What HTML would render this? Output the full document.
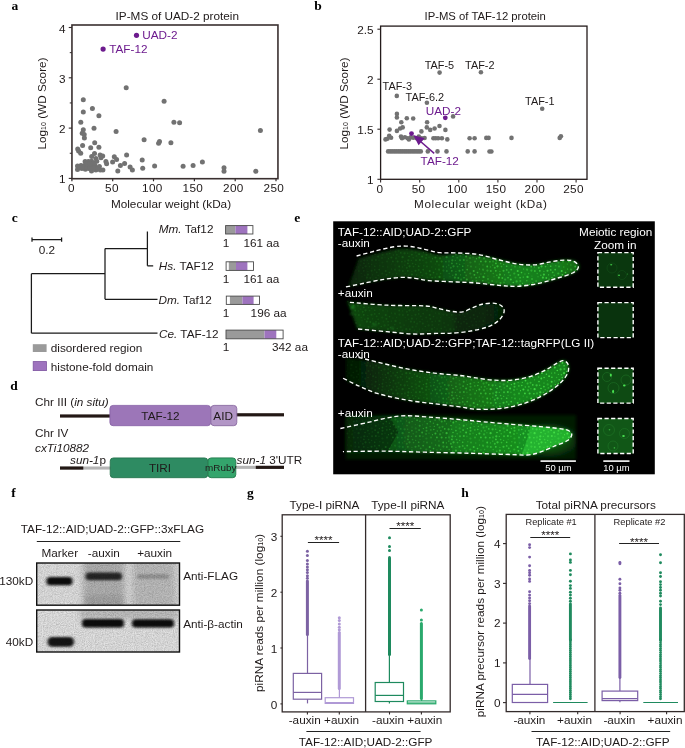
<!DOCTYPE html>
<html><head><meta charset="utf-8"><title>Figure</title>
<style>html,body{margin:0;padding:0;background:#fff}svg{display:block}text{font-family:"Liberation Sans",sans-serif}.lab{font-family:"Liberation Serif",serif;font-weight:bold;font-size:13.5px;fill:#000}.it{font-style:italic}</style>
</head><body>
<svg width="685" height="748" viewBox="0 0 685 748">
<defs>
<linearGradient id="g1" x1="346" x2="579" gradientUnits="userSpaceOnUse"><stop offset="0.000" stop-color="#062206"/><stop offset="0.146" stop-color="#0a340b"/><stop offset="0.361" stop-color="#0d460f"/><stop offset="0.532" stop-color="#126316"/><stop offset="0.747" stop-color="#17821b"/><stop offset="0.918" stop-color="#167c1a"/><stop offset="1.000" stop-color="#126615"/></linearGradient>
<linearGradient id="g2" x1="346" x2="505" gradientUnits="userSpaceOnUse"><stop offset="0.000" stop-color="#0f4711"/><stop offset="0.340" stop-color="#0d3c0e"/><stop offset="0.667" stop-color="#0b350c"/><stop offset="0.698" stop-color="#072808"/><stop offset="1.000" stop-color="#062206"/></linearGradient>
<linearGradient id="g3" x1="342" x2="569" gradientUnits="userSpaceOnUse"><stop offset="0.000" stop-color="#031403"/><stop offset="0.123" stop-color="#072708"/><stop offset="0.344" stop-color="#0e4a10"/><stop offset="0.564" stop-color="#146e17"/><stop offset="0.784" stop-color="#18881c"/><stop offset="1.000" stop-color="#17841d"/></linearGradient>
<linearGradient id="g4" x1="346" x2="572" gradientUnits="userSpaceOnUse"><stop offset="0.000" stop-color="#0c4410"/><stop offset="0.239" stop-color="#11621a"/><stop offset="0.549" stop-color="#15801c"/><stop offset="0.814" stop-color="#179220"/><stop offset="1.000" stop-color="#168e1f"/></linearGradient>
<radialGradient id="gl" cx="548" cy="440" r="36" gradientUnits="userSpaceOnUse" gradientTransform="translate(0 198) scale(1 0.55)"><stop offset="0" stop-color="#139a1e" stop-opacity="0.6"/><stop offset="0.6" stop-color="#118a1a" stop-opacity="0.35"/><stop offset="1" stop-color="#0a3a0c" stop-opacity="0"/></radialGradient>
<linearGradient id="s1" x1="346" x2="579" gradientUnits="userSpaceOnUse"><stop offset="0.000" stop-color="#ffffff" stop-opacity="0.06"/><stop offset="0.361" stop-color="#ffffff" stop-opacity="0.2"/><stop offset="0.575" stop-color="#ffffff" stop-opacity="0.55"/><stop offset="0.918" stop-color="#ffffff" stop-opacity="0.75"/><stop offset="1.000" stop-color="#ffffff" stop-opacity="0.55"/></linearGradient>
<linearGradient id="s2" x1="346" x2="505" gradientUnits="userSpaceOnUse"><stop offset="0.000" stop-color="#ffffff" stop-opacity="0.16"/><stop offset="1.000" stop-color="#ffffff" stop-opacity="0.06"/></linearGradient>
<linearGradient id="s3" x1="342" x2="569" gradientUnits="userSpaceOnUse"><stop offset="0.000" stop-color="#ffffff" stop-opacity="0.05"/><stop offset="0.344" stop-color="#ffffff" stop-opacity="0.2"/><stop offset="0.564" stop-color="#ffffff" stop-opacity="0.5"/><stop offset="0.784" stop-color="#ffffff" stop-opacity="0.8"/><stop offset="1.000" stop-color="#ffffff" stop-opacity="0.85"/></linearGradient>
<linearGradient id="s4" x1="346" x2="572" gradientUnits="userSpaceOnUse"><stop offset="0.000" stop-color="#ffffff" stop-opacity="0.08"/><stop offset="0.239" stop-color="#ffffff" stop-opacity="0.25"/><stop offset="0.416" stop-color="#ffffff" stop-opacity="0.55"/><stop offset="1.000" stop-color="#ffffff" stop-opacity="0.85"/></linearGradient>
<pattern id="nuc" width="44" height="44" patternUnits="userSpaceOnUse"><g fill="#4ae84a"><circle cx="27.4" cy="32.6" r="0.7" opacity="1"/><circle cx="35.0" cy="41.5" r="1.0" opacity="0.6"/><circle cx="1.3" cy="20.5" r="0.8" opacity="1"/><circle cx="41.5" cy="28.6" r="0.9" opacity="1"/><circle cx="39.6" cy="5.0" r="0.6" opacity="1"/><circle cx="20.6" cy="10.8" r="0.6" opacity="0.9"/><circle cx="23.9" cy="25.3" r="0.8" opacity="1"/><circle cx="0.6" cy="9.5" r="0.7" opacity="0.6"/><circle cx="44.6" cy="9.5" r="0.7" opacity="0.6"/><circle cx="12.3" cy="40.3" r="1.1" opacity="0.9"/><circle cx="33.7" cy="7.0" r="1.0" opacity="1"/><circle cx="27.2" cy="5.6" r="0.9" opacity="0.9"/><circle cx="0.1" cy="38.3" r="1.1" opacity="0.6"/><circle cx="44.1" cy="38.3" r="1.1" opacity="0.6"/><circle cx="9.2" cy="9.5" r="0.7" opacity="0.6"/><circle cx="23.7" cy="29.8" r="1.0" opacity="0.9"/><circle cx="9.0" cy="41.4" r="1.1" opacity="0.45"/><circle cx="30.4" cy="42.5" r="1.1" opacity="0.45"/><circle cx="39.3" cy="13.1" r="0.7" opacity="1"/><circle cx="15.9" cy="7.3" r="0.6" opacity="0.75"/><circle cx="6.4" cy="2.9" r="0.6" opacity="0.75"/><circle cx="13.3" cy="26.5" r="0.9" opacity="1"/><circle cx="14.9" cy="13.6" r="1.1" opacity="0.9"/><circle cx="36.0" cy="21.2" r="1.1" opacity="0.9"/><circle cx="13.9" cy="21.2" r="0.9" opacity="1"/><circle cx="31.0" cy="2.5" r="0.9" opacity="0.6"/><circle cx="-1.1" cy="1.0" r="0.8" opacity="0.45"/><circle cx="-1.1" cy="45.0" r="0.8" opacity="0.45"/><circle cx="42.9" cy="1.0" r="0.8" opacity="0.45"/><circle cx="42.9" cy="45.0" r="0.8" opacity="0.45"/><circle cx="33.0" cy="37.2" r="0.6" opacity="0.6"/><circle cx="0.8" cy="34.7" r="0.9" opacity="0.6"/><circle cx="44.8" cy="34.7" r="0.9" opacity="0.6"/><circle cx="16.1" cy="25.5" r="0.8" opacity="0.9"/><circle cx="8.6" cy="33.3" r="1.1" opacity="0.75"/><circle cx="40.9" cy="41.4" r="0.9" opacity="1"/><circle cx="23.1" cy="34.1" r="0.9" opacity="1"/><circle cx="4.8" cy="32.9" r="0.8" opacity="1"/><circle cx="1.6" cy="41.6" r="1.0" opacity="0.9"/><circle cx="4.0" cy="15.0" r="1.0" opacity="0.6"/><circle cx="26.9" cy="40.4" r="0.8" opacity="0.45"/><circle cx="24.0" cy="13.7" r="0.8" opacity="1"/><circle cx="3.4" cy="6.6" r="1.1" opacity="0.6"/><circle cx="-0.6" cy="23.5" r="1.1" opacity="0.75"/><circle cx="43.4" cy="23.5" r="1.1" opacity="0.75"/><circle cx="26.1" cy="36.4" r="1.0" opacity="1"/><circle cx="20.0" cy="18.6" r="1.0" opacity="0.45"/><circle cx="4.7" cy="19.1" r="1.1" opacity="0.6"/><circle cx="6.6" cy="37.2" r="1.1" opacity="1"/><circle cx="16.6" cy="-0.5" r="0.8" opacity="0.75"/><circle cx="16.6" cy="43.5" r="0.8" opacity="0.75"/><circle cx="3.9" cy="12.0" r="0.6" opacity="0.45"/><circle cx="15.9" cy="34.6" r="0.9" opacity="0.9"/><circle cx="34.1" cy="30.6" r="0.6" opacity="0.75"/><circle cx="16.0" cy="31.0" r="0.6" opacity="0.9"/><circle cx="28.6" cy="25.5" r="0.7" opacity="0.45"/><circle cx="11.0" cy="29.6" r="0.8" opacity="0.9"/><circle cx="20.4" cy="35.9" r="0.9" opacity="0.45"/><circle cx="38.3" cy="30.3" r="0.6" opacity="1"/><circle cx="41.2" cy="21.0" r="1.0" opacity="0.45"/><circle cx="30.4" cy="31.7" r="0.9" opacity="1"/><circle cx="34.3" cy="25.6" r="0.8" opacity="1"/><circle cx="29.3" cy="18.5" r="0.8" opacity="1"/><circle cx="19.4" cy="28.6" r="0.7" opacity="0.45"/><circle cx="27.8" cy="1.8" r="0.8" opacity="0.45"/><circle cx="12.3" cy="18.0" r="0.6" opacity="0.45"/><circle cx="26.8" cy="15.4" r="1.0" opacity="1"/><circle cx="39.3" cy="0.0" r="0.6" opacity="0.6"/><circle cx="39.3" cy="44.0" r="0.6" opacity="0.6"/><circle cx="4.7" cy="24.9" r="0.9" opacity="0.75"/><circle cx="16.5" cy="19.0" r="1.0" opacity="0.75"/><circle cx="10.0" cy="12.8" r="0.7" opacity="0.45"/><circle cx="42.8" cy="16.7" r="0.8" opacity="0.75"/><circle cx="26.2" cy="11.4" r="0.8" opacity="0.6"/><circle cx="18.3" cy="14.0" r="0.9" opacity="0.9"/><circle cx="34.4" cy="10.8" r="0.9" opacity="1"/><circle cx="11.8" cy="6.8" r="0.9" opacity="1"/><circle cx="-0.5" cy="12.9" r="1.1" opacity="1"/><circle cx="43.5" cy="12.9" r="1.1" opacity="1"/><circle cx="26.8" cy="20.9" r="0.6" opacity="1"/><circle cx="20.0" cy="40.3" r="1.0" opacity="0.75"/><circle cx="39.1" cy="24.0" r="0.9" opacity="0.6"/><circle cx="31.2" cy="27.8" r="0.8" opacity="0.9"/><circle cx="37.5" cy="8.6" r="0.8" opacity="1"/><circle cx="13.0" cy="36.5" r="0.8" opacity="1"/><circle cx="2.9" cy="36.8" r="0.8" opacity="0.45"/><circle cx="21.1" cy="24.2" r="0.9" opacity="1"/><circle cx="35.7" cy="3.0" r="0.8" opacity="0.45"/><circle cx="3.2" cy="2.5" r="0.9" opacity="1"/><circle cx="2.5" cy="30.7" r="1.0" opacity="0.6"/><circle cx="6.6" cy="27.8" r="0.6" opacity="0.75"/><circle cx="22.7" cy="5.9" r="0.9" opacity="0.75"/><circle cx="32.6" cy="17.4" r="1.1" opacity="0.75"/><circle cx="6.8" cy="7.0" r="1.0" opacity="0.75"/><circle cx="10.3" cy="21.2" r="1.1" opacity="0.9"/><circle cx="8.8" cy="1.1" r="0.6" opacity="1"/><circle cx="8.8" cy="45.1" r="0.6" opacity="1"/><circle cx="24.1" cy="-0.5" r="0.6" opacity="0.45"/><circle cx="24.1" cy="43.5" r="0.6" opacity="0.45"/><circle cx="17.5" cy="2.6" r="0.8" opacity="0.75"/><circle cx="13.5" cy="2.3" r="1.1" opacity="0.9"/><circle cx="36.1" cy="13.8" r="0.8" opacity="1"/><circle cx="10.8" cy="3.7" r="1.0" opacity="0.75"/><circle cx="41.3" cy="35.0" r="0.7" opacity="0.75"/><circle cx="37.4" cy="27.2" r="0.7" opacity="0.75"/><circle cx="30.0" cy="38.0" r="0.8" opacity="1"/><circle cx="8.1" cy="17.1" r="0.8" opacity="0.75"/><circle cx="31.4" cy="13.5" r="0.9" opacity="0.45"/><circle cx="36.5" cy="38.7" r="0.6" opacity="1"/><circle cx="21.1" cy="15.6" r="1.1" opacity="0.6"/><circle cx="22.7" cy="2.3" r="0.8" opacity="1"/><circle cx="11.7" cy="33.2" r="0.7" opacity="0.75"/><circle cx="10.6" cy="25.0" r="0.7" opacity="0.75"/><circle cx="18.4" cy="22.2" r="0.7" opacity="0.9"/><circle cx="19.7" cy="32.4" r="1.1" opacity="0.45"/><circle cx="38.6" cy="19.3" r="0.6" opacity="1"/><circle cx="33.4" cy="22.7" r="0.8" opacity="0.75"/><circle cx="-1.0" cy="5.6" r="1.1" opacity="0.6"/><circle cx="43.0" cy="5.6" r="1.1" opacity="0.6"/><circle cx="34.8" cy="33.9" r="0.9" opacity="0.6"/><circle cx="23.6" cy="21.1" r="0.6" opacity="0.75"/><circle cx="30.3" cy="9.5" r="1.1" opacity="0.6"/><circle cx="19.5" cy="6.7" r="1.0" opacity="0.9"/><circle cx="17.2" cy="37.7" r="0.8" opacity="0.6"/><circle cx="26.6" cy="28.8" r="0.6" opacity="0.45"/><circle cx="-0.5" cy="31.5" r="1.0" opacity="0.6"/><circle cx="43.5" cy="31.5" r="1.0" opacity="0.6"/><circle cx="5.9" cy="41.7" r="0.8" opacity="1"/><circle cx="12.8" cy="11.2" r="0.7" opacity="0.75"/><circle cx="40.9" cy="10.0" r="0.8" opacity="0.45"/><circle cx="1.7" cy="25.5" r="1.0" opacity="0.75"/><circle cx="36.3" cy="17.0" r="1.0" opacity="0.6"/><circle cx="24.7" cy="8.3" r="0.9" opacity="0.75"/><circle cx="30.5" cy="34.7" r="1.0" opacity="0.75"/><circle cx="6.3" cy="22.3" r="0.9" opacity="0.75"/><circle cx="15.9" cy="10.6" r="1.1" opacity="0.9"/><circle cx="37.8" cy="33.5" r="0.8" opacity="0.9"/><circle cx="23.8" cy="39.9" r="1.0" opacity="0.9"/><circle cx="15.3" cy="40.3" r="0.6" opacity="0.9"/><circle cx="30.4" cy="22.4" r="0.7" opacity="0.6"/><circle cx="19.7" cy="0.3" r="0.6" opacity="0.9"/><circle cx="19.7" cy="44.3" r="0.6" opacity="0.9"/><circle cx="39.4" cy="37.4" r="1.0" opacity="1"/><circle cx="11.9" cy="-0.6" r="0.9" opacity="1"/><circle cx="11.9" cy="43.4" r="0.9" opacity="1"/></g></pattern>
<filter id="bl" x="-5%" y="-20%" width="110%" height="140%"><feGaussianBlur stdDeviation="1.6"/></filter>
<filter id="bl4" x="-50%" y="-50%" width="200%" height="200%"><feGaussianBlur stdDeviation="0.5"/></filter>
<filter id="bl2" x="-20%" y="-50%" width="140%" height="200%"><feGaussianBlur stdDeviation="1.5 1.2"/></filter>
<filter id="bl3" x="-20%" y="-50%" width="140%" height="200%"><feGaussianBlur stdDeviation="3 2"/></filter>
<filter id="grain" x="0" y="0" width="100%" height="100%"><feTurbulence type="fractalNoise" baseFrequency="0.9" numOctaves="2" seed="3" result="n"/><feColorMatrix in="n" type="matrix" values="0 0 0 0 0  0 0 0 0 0  0 0 0 0 0  0.9 0.9 0 0 -0.62"/></filter>
<clipPath id="cb1"><rect x="37" y="563" width="142" height="42"/></clipPath>
<clipPath id="cb2"><rect x="37" y="610" width="142" height="42"/></clipPath>
</defs>
<rect width="685" height="748" fill="#fff"/>
<text class="lab" x="11.5" y="9.5">a</text>
<text class="lab" x="314.3" y="9.5">b</text>
<text class="lab" x="11.8" y="222">c</text>
<text class="lab" x="10.3" y="389.7">d</text>
<text class="lab" x="294.3" y="221.8">e</text>
<text class="lab" x="11.2" y="497">f</text>
<text class="lab" x="247" y="496.5">g</text>
<text class="lab" x="461.3" y="496.8">h</text>
<rect x="71.95" y="25.0" width="206.00" height="153.70" fill="none" stroke="#3a3030" stroke-width="1.6"/>
<text x="177.3" y="20.1" font-size="11.75" text-anchor="middle" fill="#1f1a1a" >IP-MS of UAD-2 protein</text>
<text x="171.0" y="208.0" font-size="11.75" text-anchor="middle" fill="#1f1a1a" >Molecular weight (kDa)</text>
<line x1="68.75" y1="178.4" x2="71.95" y2="178.4" stroke="#332b2b" stroke-width="1.1"/>
<text x="65.5" y="183.4" font-size="11.75" text-anchor="end" fill="#1f1a1a" >1</text>
<line x1="68.75" y1="128.10000000000002" x2="71.95" y2="128.10000000000002" stroke="#332b2b" stroke-width="1.1"/>
<text x="65.5" y="133.1" font-size="11.75" text-anchor="end" fill="#1f1a1a" >2</text>
<line x1="68.75" y1="77.80000000000001" x2="71.95" y2="77.80000000000001" stroke="#332b2b" stroke-width="1.1"/>
<text x="65.5" y="82.8" font-size="11.75" text-anchor="end" fill="#1f1a1a" >3</text>
<line x1="68.75" y1="27.50000000000003" x2="71.95" y2="27.50000000000003" stroke="#332b2b" stroke-width="1.1"/>
<text x="65.5" y="32.5" font-size="11.75" text-anchor="end" fill="#1f1a1a" >4</text>
<line x1="69.75" y1="153.25" x2="71.95" y2="153.25" stroke="#332b2b" stroke-width="1"/>
<line x1="69.75" y1="102.95000000000002" x2="71.95" y2="102.95000000000002" stroke="#332b2b" stroke-width="1"/>
<line x1="69.75" y1="52.650000000000006" x2="71.95" y2="52.650000000000006" stroke="#332b2b" stroke-width="1"/>
<line x1="71.9" y1="178.7" x2="71.9" y2="181.29999999999998" stroke="#332b2b" stroke-width="1.2"/>
<text x="71.4" y="192.3" font-size="11.75" text-anchor="middle" fill="#1f1a1a" letter-spacing="0.4">0</text>
<line x1="112.7" y1="178.7" x2="112.7" y2="181.29999999999998" stroke="#332b2b" stroke-width="1.2"/>
<text x="111.9" y="192.3" font-size="11.75" text-anchor="middle" fill="#1f1a1a" letter-spacing="0.4">50</text>
<line x1="153.5" y1="178.7" x2="153.5" y2="181.29999999999998" stroke="#332b2b" stroke-width="1.2"/>
<text x="152.4" y="192.3" font-size="11.75" text-anchor="middle" fill="#1f1a1a" letter-spacing="0.4">100</text>
<line x1="194.4" y1="178.7" x2="194.4" y2="181.29999999999998" stroke="#332b2b" stroke-width="1.2"/>
<text x="192.9" y="192.3" font-size="11.75" text-anchor="middle" fill="#1f1a1a" letter-spacing="0.4">150</text>
<line x1="235.2" y1="178.7" x2="235.2" y2="181.29999999999998" stroke="#332b2b" stroke-width="1.2"/>
<text x="233.4" y="192.3" font-size="11.75" text-anchor="middle" fill="#1f1a1a" letter-spacing="0.4">200</text>
<line x1="276.0" y1="178.7" x2="276.0" y2="181.29999999999998" stroke="#332b2b" stroke-width="1.2"/>
<text x="273.9" y="192.3" font-size="11.75" text-anchor="middle" fill="#1f1a1a" letter-spacing="0.4">250</text>
<text transform="translate(46.4,103.5) rotate(-90)" font-size="11.75" text-anchor="middle" fill="#1f1a1a">Log<tspan font-size="7">10</tspan> (WD Score)</text>
<g fill="#727272">
<circle cx="92.4" cy="108.5" r="2.5"/>
<circle cx="83.3" cy="112.0" r="2.5"/>
<circle cx="98.9" cy="115.7" r="2.5"/>
<circle cx="80.8" cy="122.2" r="2.5"/>
<circle cx="164.1" cy="101.2" r="2.5"/>
<circle cx="94.0" cy="128.3" r="2.5"/>
<circle cx="83.3" cy="129.7" r="2.5"/>
<circle cx="116.1" cy="131.5" r="2.5"/>
<circle cx="82.2" cy="133.2" r="2.5"/>
<circle cx="84.2" cy="134.6" r="2.5"/>
<circle cx="84.4" cy="138.1" r="2.5"/>
<circle cx="144.1" cy="139.7" r="2.5"/>
<circle cx="159.5" cy="141.5" r="2.5"/>
<circle cx="158.6" cy="143.2" r="2.5"/>
<circle cx="94.7" cy="142.7" r="2.5"/>
<circle cx="82.6" cy="145.5" r="2.5"/>
<circle cx="98.9" cy="147.3" r="2.5"/>
<circle cx="90.7" cy="147.8" r="2.5"/>
<circle cx="77.7" cy="149.0" r="2.5"/>
<circle cx="78.6" cy="151.1" r="2.5"/>
<circle cx="80.7" cy="153.2" r="2.5"/>
<circle cx="94.5" cy="153.4" r="2.5"/>
<circle cx="126.6" cy="155.1" r="2.5"/>
<circle cx="100.1" cy="155.1" r="2.5"/>
<circle cx="91.7" cy="156.4" r="2.5"/>
<circle cx="102.7" cy="156.0" r="2.5"/>
<circle cx="114.3" cy="156.7" r="2.5"/>
<circle cx="101.0" cy="157.8" r="2.5"/>
<circle cx="95.9" cy="158.6" r="2.5"/>
<circle cx="116.6" cy="159.5" r="2.5"/>
<circle cx="142.2" cy="160.0" r="2.5"/>
<circle cx="85.1" cy="161.6" r="2.5"/>
<circle cx="88.4" cy="161.6" r="2.5"/>
<circle cx="91.5" cy="161.3" r="2.5"/>
<circle cx="105.9" cy="161.6" r="2.5"/>
<circle cx="112.6" cy="162.1" r="2.5"/>
<circle cx="124.6" cy="163.4" r="2.5"/>
<circle cx="106.6" cy="163.7" r="2.5"/>
<circle cx="77.5" cy="166.0" r="2.5"/>
<circle cx="81.0" cy="165.5" r="2.5"/>
<circle cx="84.5" cy="165.5" r="2.5"/>
<circle cx="88.0" cy="165.5" r="2.5"/>
<circle cx="92.4" cy="166.0" r="2.5"/>
<circle cx="95.0" cy="165.5" r="2.5"/>
<circle cx="99.4" cy="166.5" r="2.5"/>
<circle cx="120.4" cy="165.5" r="2.5"/>
<circle cx="154.6" cy="166.0" r="2.5"/>
<circle cx="130.1" cy="166.9" r="2.5"/>
<circle cx="142.7" cy="168.3" r="2.5"/>
<circle cx="132.4" cy="170.0" r="2.5"/>
<circle cx="77.5" cy="169.5" r="2.5"/>
<circle cx="81.9" cy="168.6" r="2.5"/>
<circle cx="85.4" cy="169.2" r="2.5"/>
<circle cx="88.9" cy="168.6" r="2.5"/>
<circle cx="91.5" cy="170.9" r="2.5"/>
<circle cx="95.9" cy="170.0" r="2.5"/>
<circle cx="100.3" cy="170.0" r="2.5"/>
<circle cx="102.9" cy="170.0" r="2.5"/>
<circle cx="117.8" cy="170.9" r="2.5"/>
<circle cx="79.6" cy="167.6" r="2.5"/>
<circle cx="83.1" cy="167.2" r="2.5"/>
<circle cx="86.6" cy="167.4" r="2.5"/>
<circle cx="90.1" cy="167.6" r="2.5"/>
<circle cx="93.6" cy="167.9" r="2.5"/>
<circle cx="97.7" cy="168.6" r="2.5"/>
<circle cx="86.3" cy="163.7" r="2.5"/>
<circle cx="89.8" cy="163.7" r="2.5"/>
<circle cx="94.2" cy="163.0" r="2.5"/>
<circle cx="96.8" cy="161.3" r="2.5"/>
<circle cx="126.2" cy="87.7" r="2.5"/>
<circle cx="83.3" cy="99.7" r="2.5"/>
<circle cx="173.9" cy="122.2" r="2.5"/>
<circle cx="179.6" cy="122.7" r="2.5"/>
<circle cx="170.9" cy="142.7" r="2.5"/>
<circle cx="260.4" cy="130.4" r="2.5"/>
<circle cx="202.4" cy="162.0" r="2.5"/>
<circle cx="193.1" cy="165.6" r="2.5"/>
<circle cx="183.1" cy="166.3" r="2.5"/>
<circle cx="224.0" cy="167.7" r="2.5"/>
<circle cx="224.0" cy="171.3" r="2.5"/>
<circle cx="255.8" cy="171.3" r="2.5"/>
</g>
<circle cx="136.5" cy="35.3" r="2.6" fill="#6d1b8e"/><circle cx="103.1" cy="49.1" r="2.6" fill="#6d1b8e"/>
<text x="142.3" y="39.4" font-size="11.75" text-anchor="start" fill="#6d1b8e" >UAD-2</text>
<text x="109.2" y="53.3" font-size="11.75" text-anchor="start" fill="#6d1b8e" >TAF-12</text>
<rect x="380.6" y="26.1" width="206.40" height="153.20" fill="none" stroke="#241b1b" stroke-width="1.3"/>
<text x="485.2" y="20.2" font-size="11.3" text-anchor="middle" fill="#1f1a1a" >IP-MS of TAF-12 protein</text>
<text x="414.0" y="208.0" font-size="11.75" text-anchor="start" fill="#1f1a1a" textLength="132.8">Molecular weight (kDa)</text>
<line x1="377.40000000000003" y1="179.3" x2="380.6" y2="179.3" stroke="#332b2b" stroke-width="1.1"/>
<text x="373.6" y="183.9" font-size="11.75" text-anchor="end" fill="#1f1a1a" >1</text>
<line x1="377.40000000000003" y1="129.2" x2="380.6" y2="129.2" stroke="#332b2b" stroke-width="1.1"/>
<text x="373.6" y="133.8" font-size="11.75" text-anchor="end" fill="#1f1a1a" >1.5</text>
<line x1="377.40000000000003" y1="79.2" x2="380.6" y2="79.2" stroke="#332b2b" stroke-width="1.1"/>
<text x="373.6" y="83.8" font-size="11.75" text-anchor="end" fill="#1f1a1a" >2</text>
<line x1="377.40000000000003" y1="29.2" x2="380.6" y2="29.2" stroke="#332b2b" stroke-width="1.1"/>
<text x="373.6" y="33.8" font-size="11.75" text-anchor="end" fill="#1f1a1a" >2.5</text>
<line x1="380.6" y1="179.3" x2="380.6" y2="182.5" stroke="#332b2b" stroke-width="1.1"/>
<text x="379.9" y="192.6" font-size="11.75" text-anchor="middle" fill="#1f1a1a" letter-spacing="0.4">0</text>
<line x1="419.7" y1="179.3" x2="419.7" y2="182.5" stroke="#332b2b" stroke-width="1.1"/>
<text x="418.6" y="192.6" font-size="11.75" text-anchor="middle" fill="#1f1a1a" letter-spacing="0.4">50</text>
<line x1="458.8" y1="179.3" x2="458.8" y2="182.5" stroke="#332b2b" stroke-width="1.1"/>
<text x="457.4" y="192.6" font-size="11.75" text-anchor="middle" fill="#1f1a1a" letter-spacing="0.4">100</text>
<line x1="497.9" y1="179.3" x2="497.9" y2="182.5" stroke="#332b2b" stroke-width="1.1"/>
<text x="496.1" y="192.6" font-size="11.75" text-anchor="middle" fill="#1f1a1a" letter-spacing="0.4">150</text>
<line x1="537.0" y1="179.3" x2="537.0" y2="182.5" stroke="#332b2b" stroke-width="1.1"/>
<text x="534.9" y="192.6" font-size="11.75" text-anchor="middle" fill="#1f1a1a" letter-spacing="0.4">200</text>
<line x1="576.1" y1="179.3" x2="576.1" y2="182.5" stroke="#332b2b" stroke-width="1.1"/>
<text x="573.6" y="192.6" font-size="11.75" text-anchor="middle" fill="#1f1a1a" letter-spacing="0.4">250</text>
<text transform="translate(347.8,103.5) rotate(-90)" font-size="11.75" text-anchor="middle" fill="#1f1a1a">Log<tspan font-size="7">10</tspan> (WD Score)</text>
<g fill="#727272">
<circle cx="396.9" cy="113.9" r="2.3"/>
<circle cx="396.9" cy="117.5" r="2.3"/>
<circle cx="406.8" cy="118.2" r="2.3"/>
<circle cx="413.2" cy="118.5" r="2.3"/>
<circle cx="401.3" cy="122.2" r="2.3"/>
<circle cx="427.1" cy="122.3" r="2.3"/>
<circle cx="453.1" cy="116.4" r="2.3"/>
<circle cx="439.5" cy="126.0" r="2.3"/>
<circle cx="426.8" cy="127.4" r="2.3"/>
<circle cx="402.7" cy="127.4" r="2.3"/>
<circle cx="400.1" cy="128.5" r="2.3"/>
<circle cx="434.6" cy="128.5" r="2.3"/>
<circle cx="430.2" cy="129.9" r="2.3"/>
<circle cx="445.4" cy="129.9" r="2.3"/>
<circle cx="389.6" cy="129.6" r="2.3"/>
<circle cx="396.9" cy="130.9" r="2.3"/>
<circle cx="421.4" cy="131.4" r="2.3"/>
<circle cx="389.2" cy="135.8" r="2.3"/>
<circle cx="391.1" cy="137.7" r="2.3"/>
<circle cx="385.5" cy="139.4" r="2.3"/>
<circle cx="387.4" cy="138.7" r="2.3"/>
<circle cx="401.0" cy="136.5" r="2.3"/>
<circle cx="402.0" cy="138.2" r="2.3"/>
<circle cx="404.9" cy="137.2" r="2.3"/>
<circle cx="407.8" cy="138.2" r="2.3"/>
<circle cx="408.9" cy="139.4" r="2.3"/>
<circle cx="410.8" cy="137.2" r="2.3"/>
<circle cx="413.2" cy="137.7" r="2.3"/>
<circle cx="416.6" cy="138.2" r="2.3"/>
<circle cx="418.8" cy="136.5" r="2.3"/>
<circle cx="421.7" cy="138.2" r="2.3"/>
<circle cx="424.6" cy="138.0" r="2.3"/>
<circle cx="433.4" cy="138.2" r="2.3"/>
<circle cx="435.6" cy="138.2" r="2.3"/>
<circle cx="438.1" cy="138.2" r="2.3"/>
<circle cx="441.9" cy="138.2" r="2.3"/>
<circle cx="447.3" cy="139.4" r="2.3"/>
<circle cx="469.6" cy="138.2" r="2.3"/>
<circle cx="474.6" cy="138.2" r="2.3"/>
<circle cx="427.8" cy="151.4" r="2.3"/>
<circle cx="437.5" cy="151.4" r="2.3"/>
<circle cx="446.5" cy="151.4" r="2.3"/>
<circle cx="467.7" cy="151.4" r="2.3"/>
<circle cx="474.6" cy="151.4" r="2.3"/>
<circle cx="388.1" cy="151.4" r="2.3"/>
<circle cx="390.2" cy="151.4" r="2.3"/>
<circle cx="392.2" cy="151.4" r="2.3"/>
<circle cx="394.3" cy="151.4" r="2.3"/>
<circle cx="396.3" cy="151.4" r="2.3"/>
<circle cx="398.4" cy="151.4" r="2.3"/>
<circle cx="400.4" cy="151.4" r="2.3"/>
<circle cx="402.4" cy="151.4" r="2.3"/>
<circle cx="404.5" cy="151.4" r="2.3"/>
<circle cx="406.5" cy="151.4" r="2.3"/>
<circle cx="408.6" cy="151.4" r="2.3"/>
<circle cx="410.6" cy="151.4" r="2.3"/>
<circle cx="412.7" cy="151.4" r="2.3"/>
<circle cx="414.7" cy="151.4" r="2.3"/>
<circle cx="416.8" cy="151.4" r="2.3"/>
<circle cx="418.8" cy="151.4" r="2.3"/>
<circle cx="420.8" cy="151.4" r="2.3"/>
<circle cx="439.6" cy="72.6" r="2.3"/>
<circle cx="480.9" cy="72.2" r="2.3"/>
<circle cx="396.8" cy="95.9" r="2.3"/>
<circle cx="426.9" cy="102.7" r="2.3"/>
<circle cx="486.3" cy="137.9" r="2.3"/>
<circle cx="488.6" cy="137.9" r="2.3"/>
<circle cx="511.5" cy="137.9" r="2.3"/>
<circle cx="491.4" cy="151.5" r="2.3"/>
<circle cx="542.2" cy="108.8" r="2.3"/>
<circle cx="559.7" cy="137.9" r="2.3"/>
<circle cx="560.9" cy="136.3" r="2.3"/>
<circle cx="489.5" cy="151.5" r="2.3"/>
</g>
<circle cx="445.3" cy="117.8" r="2.4" fill="#6d1b8e"/><circle cx="411.5" cy="133.6" r="2.4" fill="#6d1b8e"/>
<line x1="434.2" y1="153.4" x2="420" y2="141" stroke="#6d1b8e" stroke-width="1.5"/>
<path d="M413.2 135 L424.6 138.2 L418.6 145.3 Z" fill="#6d1b8e"/>
<text x="425.8" y="114.9" font-size="11.75" text-anchor="start" fill="#6d1b8e" >UAD-2</text>
<text x="420.6" y="164.5" font-size="11.75" text-anchor="start" fill="#6d1b8e" >TAF-12</text>
<text x="424.7" y="68.5" font-size="10.9" text-anchor="start" fill="#1f1a1a" >TAF-5</text>
<text x="465.1" y="68.5" font-size="10.9" text-anchor="start" fill="#1f1a1a" >TAF-2</text>
<text x="382.6" y="89.8" font-size="10.9" text-anchor="start" fill="#1f1a1a" >TAF-3</text>
<text x="405.6" y="100.7" font-size="10.9" text-anchor="start" fill="#1f1a1a" >TAF-6.2</text>
<text x="525.1" y="105.0" font-size="10.9" text-anchor="start" fill="#1f1a1a" >TAF-1</text>
<g stroke="#1a1a1a" stroke-width="1.25" fill="none">
<path d="M31.4 273.7V333.2M31.4 273.7H105M105 248.5V299.3M105 248.5H147.4M147.4 231.4V265.8M147.4 265.8H153.2M105 299.3H157.5M31.4 333.2H157.5"/>
<path d="M32 239.6H61.6M32 237.4V241.8M61.6 237.4V241.8"/>
</g>
<text x="46.8" y="254.2" font-size="11.75" text-anchor="middle" fill="#1f1a1a" >0.2</text>
<text x="158.8" y="233.3" font-size="11.75" fill="#1f1a1a"><tspan font-style="italic">Mm.</tspan> Taf12</text>
<text x="158.8" y="269.6" font-size="11.75" fill="#1f1a1a"><tspan font-style="italic">Hs.</tspan> TAF12</text>
<text x="158.5" y="303.6" font-size="11.75" fill="#1f1a1a"><tspan font-style="italic">Dm.</tspan> Taf12</text>
<text x="159" y="337.8" font-size="11.75" fill="#1f1a1a"><tspan font-style="italic">Ce.</tspan> TAF-12</text>
<rect x="225.6" y="225.6" width="9.8" height="8.4" fill="#9a9a9a"/>
<rect x="235.4" y="225.6" width="12.0" height="8.4" fill="#9e73be"/>
<rect x="225.6" y="225.6" width="27.3" height="8.4" fill="none" stroke="#4a4a4a" stroke-width="0.9"/>
<rect x="228.8" y="261.8" width="7.2" height="8.6" fill="#9a9a9a"/>
<rect x="236" y="261.8" width="11.4" height="8.6" fill="#9e73be"/>
<rect x="226.1" y="261.8" width="27.4" height="8.6" fill="none" stroke="#4a4a4a" stroke-width="0.9"/>
<rect x="229.9" y="296.1" width="12.5" height="8.3" fill="#9a9a9a"/>
<rect x="242.4" y="296.1" width="11.2" height="8.3" fill="#9e73be"/>
<rect x="226.3" y="296.1" width="33.2" height="8.3" fill="none" stroke="#4a4a4a" stroke-width="0.9"/>
<rect x="226" y="330.1" width="38.5" height="8.7" fill="#9a9a9a"/>
<rect x="264.5" y="330.1" width="11.8" height="8.7" fill="#9e73be"/>
<rect x="226" y="330.1" width="57.1" height="8.7" fill="none" stroke="#4a4a4a" stroke-width="0.9"/>
<text x="222.8" y="246.8" font-size="11.75" text-anchor="start" fill="#1f1a1a" >1</text>
<text x="243.4" y="246.8" font-size="11.75" text-anchor="start" fill="#1f1a1a" >161 aa</text>
<text x="222.8" y="283.2" font-size="11.75" text-anchor="start" fill="#1f1a1a" >1</text>
<text x="243.4" y="283.2" font-size="11.75" text-anchor="start" fill="#1f1a1a" >161 aa</text>
<text x="222.8" y="317.2" font-size="11.75" text-anchor="start" fill="#1f1a1a" >1</text>
<text x="250.6" y="317.2" font-size="11.75" text-anchor="start" fill="#1f1a1a" >196 aa</text>
<text x="222.8" y="351.3" font-size="11.75" text-anchor="start" fill="#1f1a1a" >1</text>
<text x="272.0" y="351.3" font-size="11.75" text-anchor="start" fill="#1f1a1a" >342 aa</text>
<rect x="32.8" y="344.2" width="13.8" height="7.8" fill="#9a9a9a"/>
<rect x="33.2" y="361.6" width="13.2" height="9" fill="#9e73be" stroke="#7d53a0" stroke-width="0.8"/>
<text x="50.8" y="351.6" font-size="11.75" text-anchor="start" fill="#1f1a1a" >disordered region</text>
<text x="50.8" y="370.6" font-size="11.75" text-anchor="start" fill="#1f1a1a" >histone-fold domain</text>
<text x="35" y="405.6" font-size="11.75" fill="#1f1a1a">Chr III (<tspan font-style="italic">in situ)</tspan></text>
<rect x="60" y="414.4" width="52" height="3.2" fill="#231815"/><rect x="230" y="413.2" width="54" height="3.2" fill="#231815"/>
<rect x="109.9" y="405.4" width="100.8" height="20.3" rx="3.2" fill="#9c76b8" stroke="#8560a5" stroke-width="0.8"/>
<rect x="210.9" y="405.4" width="25.9" height="20.3" rx="3.2" fill="#b296c6" stroke="#8a6aa2" stroke-width="0.9"/>
<text x="160.5" y="420.3" font-size="11.75" text-anchor="middle" fill="#1f1a1a" >TAF-12</text>
<text x="223.1" y="420.3" font-size="11.75" text-anchor="middle" fill="#1f1a1a" >AID</text>
<text x="35.0" y="437.4" font-size="11.75" text-anchor="start" fill="#1f1a1a" >Chr IV</text>
<text x="35" y="451.6" font-size="11.75" fill="#1f1a1a" font-style="italic">cxTi10882</text>
<rect x="60" y="466.5" width="52" height="3.1" fill="#b5b5b5"/><rect x="230" y="465.8" width="54" height="3.1" fill="#b5b5b5"/>
<rect x="60" y="466.5" width="23.3" height="3.1" fill="#231815"/><rect x="255.8" y="465.8" width="28.2" height="3.1" fill="#231815"/>
<rect x="110.2" y="457.9" width="97.6" height="19.8" rx="3.2" fill="#2e8b62" stroke="#1f6e48" stroke-width="0.8"/>
<rect x="208" y="457.9" width="27.8" height="19.8" rx="3.2" fill="#34a56c" stroke="#1f7a4a" stroke-width="0.9"/>
<text x="160.0" y="472.3" font-size="11.75" text-anchor="middle" fill="#1f1a1a" >TIRI</text>
<text x="220.7" y="471.0" font-size="9.9" text-anchor="middle" fill="#1f1a1a" >mRuby</text>
<text x="70" y="463.8" font-size="11.75" fill="#1f1a1a"><tspan font-style="italic">sun-1</tspan>p</text>
<text x="236.6" y="463.8" font-size="11.75" fill="#1f1a1a"><tspan font-style="italic">sun-1</tspan> 3'UTR</text>
<rect x="333.2" y="221.3" width="321.6" height="253" fill="#000"/>
<g filter="url(#bl)">
<rect x="346" y="415" width="230" height="44.5" fill="#0a3a0c" opacity="0.45"/><path d="M514 415H576V459.5H514Z" fill="url(#gl)"/>
<path d="M357.6 258.8C360.7 258.0 369.7 255.4 376.0 253.8C382.3 252.2 390.4 250.3 395.5 249.5C400.6 248.7 403.1 248.8 406.9 248.9C410.6 249.0 414.2 249.6 418.0 250.3C421.8 251.0 425.9 252.2 429.7 253.1C433.5 254.0 436.6 255.3 441.0 255.5C445.4 255.7 449.7 254.1 456.0 254.1C462.3 254.1 471.5 254.7 478.8 255.6C486.1 256.5 493.0 258.3 499.6 259.7C506.2 261.1 512.6 263.2 518.6 264.1C524.6 265.0 530.0 265.2 535.7 264.8C541.4 264.4 547.7 262.4 552.8 261.6C557.9 260.8 562.3 260.1 566.1 260.1C569.9 260.1 573.3 260.4 575.5 261.6C577.7 262.8 579.6 265.4 579.3 267.3C579.0 269.2 577.1 271.2 573.6 273.0C570.1 274.8 564.2 276.4 558.5 278.1C552.8 279.8 546.1 282.0 539.5 283.4C532.9 284.8 525.2 286.0 518.6 286.3C512.0 286.6 506.9 285.9 499.6 285.3C492.3 284.7 481.9 283.4 475.0 282.8C468.1 282.2 465.6 282.4 458.0 282.0C450.4 281.6 436.7 281.2 429.7 280.6C422.7 280.0 420.4 278.8 416.0 278.3C411.6 277.8 408.1 277.2 403.1 277.4C398.1 277.5 392.2 278.3 386.0 279.2C379.8 280.1 372.8 281.6 366.0 283.0C359.2 284.4 348.7 286.6 345.2 287.3L348 287.5L358.5 259.5Z" fill="url(#g1)"/>
<path d="M349.9 302.3C356.1 302.8 374.4 304.6 386.9 305.2C399.4 305.8 416.7 305.4 424.9 305.9C433.1 306.4 431.9 307.1 436.3 308.0C440.7 308.9 447.0 310.7 451.4 311.3C455.8 311.9 459.0 312.5 462.8 311.8C466.6 311.1 470.7 308.4 474.2 307.1C477.7 305.8 480.1 304.5 483.6 303.9C487.1 303.3 492.0 302.9 495.0 303.3C498.0 303.7 500.2 304.7 501.7 306.1C503.2 307.5 504.6 309.4 504.1 311.8C503.6 314.2 501.6 317.9 498.8 320.4C496.0 322.9 492.4 325.2 487.4 327.0C482.3 328.8 474.8 330.3 468.5 331.4C462.2 332.4 454.9 333.0 449.5 333.3C444.1 333.6 442.3 333.3 436.3 333.4C430.3 333.5 421.7 334.3 413.5 334.0C405.3 333.7 396.2 332.6 386.9 331.7C377.6 330.8 362.4 329.4 357.5 328.9L347 300.4Z" fill="url(#g2)"/>
<path d="M346.0 358.0C351.2 358.7 367.4 360.3 377.4 362.1C387.4 363.9 396.4 366.9 405.9 368.7C415.4 370.5 425.4 372.0 434.4 373.1C443.4 374.2 453.4 374.8 460.0 375.5C466.6 376.2 468.5 376.8 474.0 377.6C479.5 378.4 486.7 379.7 493.0 380.1C499.3 380.5 505.6 380.7 511.9 380.1C518.2 379.5 525.2 378.0 530.9 376.3C536.6 374.6 541.7 371.9 546.1 369.7C550.5 367.5 554.6 364.5 557.5 363.0C560.4 361.5 561.5 360.4 563.2 360.6C564.9 360.8 567.1 362.0 567.9 364.0C568.7 366.0 569.0 369.5 567.9 372.5C566.8 375.5 564.6 378.7 561.3 382.0C558.0 385.3 553.1 389.2 548.0 392.4C542.9 395.6 536.9 398.6 530.9 401.0C524.9 403.4 518.2 405.3 511.9 406.7C505.6 408.1 499.3 408.7 493.0 409.1C486.7 409.5 479.5 409.5 474.0 409.1C468.5 408.7 466.6 407.8 460.0 406.9C453.4 406.0 443.4 404.9 434.4 403.8C425.4 402.7 415.4 401.7 405.9 400.0C396.4 398.3 385.3 395.8 377.4 393.4C369.5 391.0 363.7 387.8 358.5 385.8C353.3 383.8 348.1 382.2 346.0 381.5Z" fill="url(#g3)"/>
<path d="M346.0 419.0C355.0 418.5 390.0 416.6 400.0 416.0C410.0 415.4 400.2 415.4 405.9 415.7C411.6 415.9 425.4 416.9 434.4 417.5C443.4 418.1 451.8 418.9 460.0 419.6C468.2 420.3 474.9 421.0 483.5 421.8C492.1 422.6 502.4 423.5 511.9 424.3C521.4 425.1 532.2 425.9 540.4 426.6C548.6 427.4 556.5 428.1 561.3 428.8C566.0 429.5 567.2 429.6 568.9 430.7C570.6 431.8 572.0 433.4 571.7 435.1C571.4 436.8 570.0 438.9 567.0 440.8C564.0 442.7 558.5 444.5 553.7 446.5C549.0 448.5 542.9 451.4 538.5 452.8C534.1 454.2 531.5 454.7 527.1 455.0C522.7 455.3 519.2 454.8 511.9 454.6C504.6 454.4 492.1 454.0 483.5 453.7C474.9 453.4 469.8 453.2 460.0 453.0C450.2 452.8 437.1 452.5 424.9 452.2C412.7 451.9 400.0 451.2 386.9 451.2C373.8 451.2 352.8 451.9 346.0 452.0Z" fill="url(#g4)"/>
</g>
<clipPath id="c4"><path d="M346.0 419.0C355.0 418.5 390.0 416.6 400.0 416.0C410.0 415.4 400.2 415.4 405.9 415.7C411.6 415.9 425.4 416.9 434.4 417.5C443.4 418.1 451.8 418.9 460.0 419.6C468.2 420.3 474.9 421.0 483.5 421.8C492.1 422.6 502.4 423.5 511.9 424.3C521.4 425.1 532.2 425.9 540.4 426.6C548.6 427.4 556.5 428.1 561.3 428.8C566.0 429.5 567.2 429.6 568.9 430.7C570.6 431.8 572.0 433.4 571.7 435.1C571.4 436.8 570.0 438.9 567.0 440.8C564.0 442.7 558.5 444.5 553.7 446.5C549.0 448.5 542.9 451.4 538.5 452.8C534.1 454.2 531.5 454.7 527.1 455.0C522.7 455.3 519.2 454.8 511.9 454.6C504.6 454.4 492.1 454.0 483.5 453.7C474.9 453.4 469.8 453.2 460.0 453.0C450.2 452.8 437.1 452.5 424.9 452.2C412.7 451.9 400.0 451.2 386.9 451.2C373.8 451.2 352.8 451.9 346.0 452.0Z"/></clipPath>
<g clip-path="url(#c4)" filter="url(#bl4)"><path d="M340 410H386L398.5 432L384 458H340Z" fill="#000" opacity="0.36"/><path d="M532.5 420H580V460H519.5L527 440Z" fill="#35e040" opacity="0.42"/><path d="M455 415L448 436L455 458H340V415Z" fill="#000" opacity="0.1"/></g>
<g fill="#39d044" filter="url(#bl2)" opacity="0.55"><circle cx="352.6" cy="307.3" r="1.5"/><circle cx="374.8" cy="324.6" r="1.2"/><circle cx="351.5" cy="314" r="1"/><circle cx="392" cy="328" r="1"/></g>
<mask id="mk0" maskUnits="userSpaceOnUse" x="333" y="221" width="323" height="254"><path d="M357.6 258.8C360.7 258.0 369.7 255.4 376.0 253.8C382.3 252.2 390.4 250.3 395.5 249.5C400.6 248.7 403.1 248.8 406.9 248.9C410.6 249.0 414.2 249.6 418.0 250.3C421.8 251.0 425.9 252.2 429.7 253.1C433.5 254.0 436.6 255.3 441.0 255.5C445.4 255.7 449.7 254.1 456.0 254.1C462.3 254.1 471.5 254.7 478.8 255.6C486.1 256.5 493.0 258.3 499.6 259.7C506.2 261.1 512.6 263.2 518.6 264.1C524.6 265.0 530.0 265.2 535.7 264.8C541.4 264.4 547.7 262.4 552.8 261.6C557.9 260.8 562.3 260.1 566.1 260.1C569.9 260.1 573.3 260.4 575.5 261.6C577.7 262.8 579.6 265.4 579.3 267.3C579.0 269.2 577.1 271.2 573.6 273.0C570.1 274.8 564.2 276.4 558.5 278.1C552.8 279.8 546.1 282.0 539.5 283.4C532.9 284.8 525.2 286.0 518.6 286.3C512.0 286.6 506.9 285.9 499.6 285.3C492.3 284.7 481.9 283.4 475.0 282.8C468.1 282.2 465.6 282.4 458.0 282.0C450.4 281.6 436.7 281.2 429.7 280.6C422.7 280.0 420.4 278.8 416.0 278.3C411.6 277.8 408.1 277.2 403.1 277.4C398.1 277.5 392.2 278.3 386.0 279.2C379.8 280.1 372.8 281.6 366.0 283.0C359.2 284.4 348.7 286.6 345.2 287.3L348 287.5L358.5 259.5Z" fill="url(#s1)"/></mask>
<rect x="333" y="221" width="323" height="254" fill="url(#nuc)" mask="url(#mk0)"/>
<mask id="mk1" maskUnits="userSpaceOnUse" x="333" y="221" width="323" height="254"><path d="M349.9 302.3C356.1 302.8 374.4 304.6 386.9 305.2C399.4 305.8 416.7 305.4 424.9 305.9C433.1 306.4 431.9 307.1 436.3 308.0C440.7 308.9 447.0 310.7 451.4 311.3C455.8 311.9 459.0 312.5 462.8 311.8C466.6 311.1 470.7 308.4 474.2 307.1C477.7 305.8 480.1 304.5 483.6 303.9C487.1 303.3 492.0 302.9 495.0 303.3C498.0 303.7 500.2 304.7 501.7 306.1C503.2 307.5 504.6 309.4 504.1 311.8C503.6 314.2 501.6 317.9 498.8 320.4C496.0 322.9 492.4 325.2 487.4 327.0C482.3 328.8 474.8 330.3 468.5 331.4C462.2 332.4 454.9 333.0 449.5 333.3C444.1 333.6 442.3 333.3 436.3 333.4C430.3 333.5 421.7 334.3 413.5 334.0C405.3 333.7 396.2 332.6 386.9 331.7C377.6 330.8 362.4 329.4 357.5 328.9L347 300.4Z" fill="url(#s2)"/></mask>
<rect x="333" y="221" width="323" height="254" fill="url(#nuc)" mask="url(#mk1)"/>
<mask id="mk2" maskUnits="userSpaceOnUse" x="333" y="221" width="323" height="254"><path d="M346.0 358.0C351.2 358.7 367.4 360.3 377.4 362.1C387.4 363.9 396.4 366.9 405.9 368.7C415.4 370.5 425.4 372.0 434.4 373.1C443.4 374.2 453.4 374.8 460.0 375.5C466.6 376.2 468.5 376.8 474.0 377.6C479.5 378.4 486.7 379.7 493.0 380.1C499.3 380.5 505.6 380.7 511.9 380.1C518.2 379.5 525.2 378.0 530.9 376.3C536.6 374.6 541.7 371.9 546.1 369.7C550.5 367.5 554.6 364.5 557.5 363.0C560.4 361.5 561.5 360.4 563.2 360.6C564.9 360.8 567.1 362.0 567.9 364.0C568.7 366.0 569.0 369.5 567.9 372.5C566.8 375.5 564.6 378.7 561.3 382.0C558.0 385.3 553.1 389.2 548.0 392.4C542.9 395.6 536.9 398.6 530.9 401.0C524.9 403.4 518.2 405.3 511.9 406.7C505.6 408.1 499.3 408.7 493.0 409.1C486.7 409.5 479.5 409.5 474.0 409.1C468.5 408.7 466.6 407.8 460.0 406.9C453.4 406.0 443.4 404.9 434.4 403.8C425.4 402.7 415.4 401.7 405.9 400.0C396.4 398.3 385.3 395.8 377.4 393.4C369.5 391.0 363.7 387.8 358.5 385.8C353.3 383.8 348.1 382.2 346.0 381.5Z" fill="url(#s3)"/></mask>
<rect x="333" y="221" width="323" height="254" fill="url(#nuc)" mask="url(#mk2)"/>
<mask id="mk3" maskUnits="userSpaceOnUse" x="333" y="221" width="323" height="254"><path d="M346.0 419.0C355.0 418.5 390.0 416.6 400.0 416.0C410.0 415.4 400.2 415.4 405.9 415.7C411.6 415.9 425.4 416.9 434.4 417.5C443.4 418.1 451.8 418.9 460.0 419.6C468.2 420.3 474.9 421.0 483.5 421.8C492.1 422.6 502.4 423.5 511.9 424.3C521.4 425.1 532.2 425.9 540.4 426.6C548.6 427.4 556.5 428.1 561.3 428.8C566.0 429.5 567.2 429.6 568.9 430.7C570.6 431.8 572.0 433.4 571.7 435.1C571.4 436.8 570.0 438.9 567.0 440.8C564.0 442.7 558.5 444.5 553.7 446.5C549.0 448.5 542.9 451.4 538.5 452.8C534.1 454.2 531.5 454.7 527.1 455.0C522.7 455.3 519.2 454.8 511.9 454.6C504.6 454.4 492.1 454.0 483.5 453.7C474.9 453.4 469.8 453.2 460.0 453.0C450.2 452.8 437.1 452.5 424.9 452.2C412.7 451.9 400.0 451.2 386.9 451.2C373.8 451.2 352.8 451.9 346.0 452.0Z" fill="url(#s4)"/></mask>
<rect x="333" y="221" width="323" height="254" fill="url(#nuc)" mask="url(#mk3)"/>
<g fill="none" stroke="#fff" stroke-width="1.35" stroke-dasharray="4.2 2.7">
<path d="M356.6 256.0C359.7 255.2 368.7 252.6 375.0 251.0C381.3 249.4 389.4 247.5 394.5 246.7C399.6 245.9 402.1 246.0 405.9 246.1C409.6 246.2 413.2 246.8 417.0 247.5C420.8 248.2 424.9 249.4 428.7 250.3C432.5 251.2 435.6 252.3 440.0 252.7C444.4 253.1 448.7 252.6 455.0 252.9C461.3 253.2 470.5 253.3 477.8 254.4C485.1 255.5 492.0 258.1 498.6 259.7C505.2 261.3 511.6 263.2 517.6 264.1C523.6 265.0 529.0 265.2 534.7 264.8C540.4 264.4 546.7 262.4 551.8 261.6C556.9 260.8 561.3 260.1 565.1 260.1C568.9 260.1 572.3 260.4 574.5 261.6C576.7 262.8 578.6 265.4 578.3 267.3C578.0 269.2 576.1 271.2 572.6 273.0C569.1 274.8 563.2 276.4 557.5 278.1C551.8 279.8 545.1 282.0 538.5 283.4C531.9 284.8 524.2 286.0 517.6 286.3C511.0 286.6 505.9 285.9 498.6 285.3C491.3 284.7 480.9 283.4 474.0 282.8C467.1 282.2 464.6 282.4 457.0 282.0C449.4 281.6 435.7 281.2 428.7 280.6C421.7 280.0 419.4 278.8 415.0 278.3C410.6 277.8 407.1 277.2 402.1 277.4C397.1 277.5 391.2 278.3 385.0 279.2C378.8 280.1 371.8 281.6 365.0 283.0C358.2 284.4 347.7 286.6 344.2 287.3"/>
<path d="M349.9 302.3C356.1 302.8 374.4 304.6 386.9 305.2C399.4 305.8 416.7 305.4 424.9 305.9C433.1 306.4 431.9 307.1 436.3 308.0C440.7 308.9 447.0 310.7 451.4 311.3C455.8 311.9 459.0 312.5 462.8 311.8C466.6 311.1 470.7 308.4 474.2 307.1C477.7 305.8 480.1 304.5 483.6 303.9C487.1 303.3 492.0 302.9 495.0 303.3C498.0 303.7 500.2 304.7 501.7 306.1C503.2 307.5 504.6 309.4 504.1 311.8C503.6 314.2 501.6 317.9 498.8 320.4C496.0 322.9 492.4 325.2 487.4 327.0C482.3 328.8 474.8 330.3 468.5 331.4C462.2 332.4 454.9 333.0 449.5 333.3C444.1 333.6 442.3 333.3 436.3 333.4C430.3 333.5 421.7 334.3 413.5 334.0C405.3 333.7 396.2 332.6 386.9 331.7C377.6 330.8 362.4 329.4 357.5 328.9"/>
<path d="M358.5 357.3C361.6 358.1 369.5 360.2 377.4 362.1C385.3 364.0 396.4 366.9 405.9 368.7C415.4 370.5 425.4 372.0 434.4 373.1C443.4 374.2 453.4 374.8 460.0 375.5C466.6 376.2 468.5 376.8 474.0 377.6C479.5 378.4 486.7 379.7 493.0 380.1C499.3 380.5 505.6 380.7 511.9 380.1C518.2 379.5 525.2 378.0 530.9 376.3C536.6 374.6 541.7 371.9 546.1 369.7C550.5 367.5 554.6 364.5 557.5 363.0C560.4 361.5 561.5 360.4 563.2 360.6C564.9 360.8 567.1 362.0 567.9 364.0C568.7 366.0 569.0 369.5 567.9 372.5C566.8 375.5 564.6 378.7 561.3 382.0C558.0 385.3 553.1 389.2 548.0 392.4C542.9 395.6 536.9 398.6 530.9 401.0C524.9 403.4 518.2 405.3 511.9 406.7C505.6 408.1 499.3 408.7 493.0 409.1C486.7 409.5 479.5 409.5 474.0 409.1C468.5 408.7 466.6 407.8 460.0 406.9C453.4 406.0 443.4 404.9 434.4 403.8C425.4 402.7 415.4 401.7 405.9 400.0C396.4 398.3 385.3 395.8 377.4 393.4C369.5 391.0 364.4 388.4 358.5 385.8C352.6 383.2 344.6 379.0 341.8 377.6"/>
<path d="M340.4 428.5C345.0 427.5 360.2 424.1 368.0 422.4C375.8 420.6 380.6 419.1 386.9 418.0C393.2 416.9 398.0 415.8 405.9 415.7C413.8 415.6 425.4 416.9 434.4 417.5C443.4 418.1 451.8 418.9 460.0 419.6C468.2 420.3 474.9 421.0 483.5 421.8C492.1 422.6 502.4 423.5 511.9 424.3C521.4 425.1 532.2 425.9 540.4 426.6C548.6 427.4 556.5 428.1 561.3 428.8C566.0 429.5 567.2 429.6 568.9 430.7C570.6 431.8 572.0 433.4 571.7 435.1C571.4 436.8 570.0 438.9 567.0 440.8C564.0 442.7 558.5 444.5 553.7 446.5C549.0 448.5 542.9 451.4 538.5 452.8C534.1 454.2 531.5 454.7 527.1 455.0C522.7 455.3 519.2 454.8 511.9 454.6C504.6 454.4 492.1 454.0 483.5 453.7C474.9 453.4 469.8 453.2 460.0 453.0C450.2 452.8 437.1 452.5 424.9 452.2C412.7 451.9 400.6 451.3 386.9 451.2C373.2 451.1 350.2 451.5 342.9 451.6"/>
</g>
<rect x="597.9" y="252.6" width="35.3" height="34.6" fill="#0a370e" stroke="#fff" stroke-width="1.4" stroke-dasharray="4.2 2.4"/>
<rect x="597.9" y="302.6" width="35.3" height="35.0" fill="#09330d" stroke="#fff" stroke-width="1.4" stroke-dasharray="4.2 2.4"/>
<rect x="597.9" y="368.3" width="35.3" height="34.8" fill="#0e4a13" stroke="#fff" stroke-width="1.4" stroke-dasharray="4.2 2.4"/>
<rect x="597.9" y="418.5" width="35.3" height="35.0" fill="#115717" stroke="#fff" stroke-width="1.4" stroke-dasharray="4.2 2.4"/>
<g fill="none" stroke="#2f9a38" stroke-width="0.9" opacity="0.32" filter="url(#bl4)"><circle cx="613.5" cy="388" r="5.5"/><circle cx="626" cy="380" r="5"/><circle cx="607" cy="377" r="4.5"/><circle cx="609" cy="430" r="5.5"/><circle cx="624.5" cy="433.5" r="5"/><circle cx="613" cy="446" r="5"/><circle cx="612" cy="268" r="5" opacity="0.5"/><circle cx="622" cy="275" r="4.5" opacity="0.5"/></g>
<g fill="#48e050" filter="url(#bl4)"><ellipse cx="610.8" cy="375.1" rx="1" ry="1.6"/><ellipse cx="624.3" cy="385.4" rx="1.3" ry="1"/><ellipse cx="613.1" cy="391.5" rx="1" ry="1.7"/><ellipse cx="623.5" cy="435.9" rx="1.3" ry="1"/><circle cx="609.5" cy="429.8" r="0.8" opacity="0.6"/><circle cx="614.4" cy="447.9" r="0.8" opacity="0.6"/><ellipse cx="611.2" cy="264.8" rx="1.1" ry="0.7" opacity="0.8"/><ellipse cx="619" cy="275.3" rx="1.1" ry="0.7" opacity="0.8"/><circle cx="627.5" cy="274" r="0.6" opacity="0.5"/></g>
<text x="337.8" y="235.7" font-size="11.75" text-anchor="start" fill="#fff" >TAF-12::AID;UAD-2::GFP</text>
<text x="337.8" y="247.0" font-size="11.75" text-anchor="start" fill="#fff" >-auxin</text>
<text x="337.8" y="296.8" font-size="11.75" text-anchor="start" fill="#fff" >+auxin</text>
<text x="337.8" y="346.6" font-size="11.75" text-anchor="start" fill="#fff" textLength="256.4">TAF-12::AID;UAD-2::GFP;TAF-12::tagRFP(LG II)</text>
<text x="337.8" y="357.9" font-size="11.75" text-anchor="start" fill="#fff" >-auxin</text>
<text x="337.8" y="417.0" font-size="11.75" text-anchor="start" fill="#fff" >+auxin</text>
<text x="615.7" y="235.7" font-size="11.75" text-anchor="middle" fill="#fff" >Meiotic region</text>
<text x="615.2" y="249.4" font-size="11.75" text-anchor="middle" fill="#fff" >Zoom in</text>
<rect x="540.5" y="460.3" width="35.4" height="1.6" fill="#fff"/><rect x="603.3" y="460.3" width="26.2" height="1.6" fill="#fff"/>
<text x="558.4" y="471.2" font-size="9.4" text-anchor="middle" fill="#fff" >50 µm</text>
<text x="616.4" y="471.2" font-size="9.4" text-anchor="middle" fill="#fff" >10 µm</text>
<text x="20.8" y="533.2" font-size="11.75" text-anchor="start" fill="#1f1a1a" >TAF-12::AID;UAD-2::GFP::3xFLAG</text>
<line x1="36.8" y1="541.5" x2="180.3" y2="541.5" stroke="#222" stroke-width="1"/>
<text x="41.5" y="557.0" font-size="11.75" text-anchor="start" fill="#1f1a1a" >Marker</text>
<text x="87.8" y="557.0" font-size="11.75" text-anchor="start" fill="#1f1a1a" >-auxin</text>
<text x="137.2" y="557.0" font-size="11.75" text-anchor="start" fill="#1f1a1a" >+auxin</text>
<text x="33.2" y="584.5" font-size="11.75" text-anchor="end" fill="#1f1a1a" >130kD</text>
<text x="33.2" y="645.9" font-size="11.75" text-anchor="end" fill="#1f1a1a" >40kD</text>
<text x="183.2" y="579.9" font-size="11.75" text-anchor="start" fill="#1f1a1a" >Anti-FLAG</text>
<text x="183.2" y="628.1" font-size="11.75" text-anchor="start" fill="#1f1a1a" >Anti-β-actin</text>
<g clip-path="url(#cb1)">
<rect x="36" y="562" width="145" height="45" fill="#e0e0e0"/>
<g filter="url(#bl3)"><rect x="83" y="558" width="42" height="52" fill="#b2b2b2"/><rect x="132" y="558" width="44" height="52" fill="#bdbdbd"/><rect x="84" y="595" width="40" height="14" fill="#a4a4a4"/></g>
<g filter="url(#bl2)"><rect x="46.5" y="577" width="26" height="8.2" rx="3.5" fill="#101010"/><rect x="85.5" y="572.4" width="36.5" height="7.8" rx="3.5" fill="#262626"/><rect x="137" y="574.3" width="32" height="4.4" rx="2" fill="#858585" opacity="0.75"/></g>
<rect x="36" y="562" width="145" height="45" filter="url(#grain)" opacity="0.24"/>
</g>
<rect x="36.7" y="563" width="142.8" height="42.2" fill="none" stroke="#111" stroke-width="1.4"/>
<g clip-path="url(#cb2)">
<rect x="36" y="609" width="145" height="45" fill="#e2e2e2"/>
<g filter="url(#bl3)"><rect x="80" y="606" width="98" height="13" fill="#c0c0c0"/></g>
<g filter="url(#bl2)"><rect x="82" y="619" width="42" height="8.4" rx="3.5" fill="#080808"/><rect x="132" y="619.2" width="42" height="8.2" rx="3.5" fill="#080808"/><rect x="47.5" y="637" width="26.5" height="9.8" rx="4.5" fill="#181818"/></g>
<rect x="36" y="609" width="145" height="45" filter="url(#grain)" opacity="0.24"/>
</g>
<rect x="36.7" y="610" width="142.8" height="42" fill="none" stroke="#111" stroke-width="1.4"/>
<rect x="282.2" y="514.8" width="168.00" height="197.10" fill="none" stroke="#332b2b" stroke-width="1.3"/>
<line x1="365.6" y1="514.8" x2="365.6" y2="711.9" stroke="#332b2b" stroke-width="1.3"/>
<text x="324.5" y="509.2" font-size="11.75" text-anchor="middle" fill="#1f1a1a" >Type-I piRNA</text>
<text x="407.8" y="509.2" font-size="11.75" text-anchor="middle" fill="#1f1a1a" >Type-II piRNA</text>
<line x1="280.4" y1="703.9" x2="282.2" y2="703.9" stroke="#332b2b" stroke-width="1.1"/>
<text x="277.3" y="708.6" font-size="11.75" text-anchor="end" fill="#1f1a1a" >0</text>
<line x1="280.4" y1="648.0" x2="282.2" y2="648.0" stroke="#332b2b" stroke-width="1.1"/>
<text x="277.3" y="652.8" font-size="11.75" text-anchor="end" fill="#1f1a1a" >1</text>
<line x1="280.4" y1="592.2" x2="282.2" y2="592.2" stroke="#332b2b" stroke-width="1.1"/>
<text x="277.3" y="596.9" font-size="11.75" text-anchor="end" fill="#1f1a1a" >2</text>
<line x1="280.4" y1="536.3" x2="282.2" y2="536.3" stroke="#332b2b" stroke-width="1.1"/>
<text x="277.3" y="541.0" font-size="11.75" text-anchor="end" fill="#1f1a1a" >3</text>
<text transform="translate(262.7,613) rotate(-90)" font-size="11.8" text-anchor="middle" fill="#1f1a1a">piRNA reads per million (log<tspan font-size="7.1">10</tspan>)</text>
<circle cx="307.4" cy="551.3" r="1.5" fill="#7c62a3"/>
<circle cx="307.4" cy="555.5" r="1.5" fill="#7c62a3"/>
<circle cx="307.4" cy="560.6" r="1.5" fill="#7c62a3"/>
<circle cx="307.4" cy="564.0" r="1.5" fill="#7c62a3"/>
<circle cx="307.4" cy="566.9" r="1.5" fill="#7c62a3"/>
<circle cx="307.4" cy="569.7" r="1.5" fill="#7c62a3"/>
<circle cx="307.4" cy="572.6" r="1.5" fill="#7c62a3"/>
<circle cx="307.4" cy="575.8" r="1.5" fill="#7c62a3"/>
<circle cx="307.4" cy="578.3" r="1.5" fill="#7c62a3"/>
<line x1="307.4" y1="581" x2="307.4" y2="634.5" stroke="#7c62a3" stroke-width="3.0" stroke-linecap="round"/>
<g stroke="#7c62a3" stroke-width="1.2" fill="none"><rect x="293.3" y="673.4" width="28.3" height="25.8"/><line x1="293.3" y1="692.4" x2="321.6" y2="692.4"/><line x1="307.5" y1="635" x2="307.5" y2="673.4"/><line x1="307.5" y1="699.2" x2="307.5" y2="703.4"/></g>
<circle cx="339.3" cy="617.7" r="1.5" fill="#b09ad6"/>
<circle cx="339.3" cy="620.6" r="1.5" fill="#b09ad6"/>
<circle cx="339.3" cy="624.0" r="1.5" fill="#b09ad6"/>
<circle cx="339.3" cy="627.2" r="1.5" fill="#b09ad6"/>
<circle cx="339.3" cy="629.8" r="1.5" fill="#b09ad6"/>
<line x1="339.3" y1="632.5" x2="339.3" y2="688.5" stroke="#b09ad6" stroke-width="3.0" stroke-linecap="round"/>
<g stroke="#b09ad6" stroke-width="1.2" fill="none"><rect x="325.2" y="697.7" width="28.3" height="5.7"/><line x1="325.2" y1="702.6" x2="353.5" y2="702.6"/><line x1="339.4" y1="689" x2="339.4" y2="697.7"/><line x1="339.4" y1="703.4" x2="339.4" y2="703.4"/></g>
<circle cx="389.5" cy="537.8" r="1.5" fill="#1e8a5e"/>
<circle cx="389.5" cy="546.6" r="1.5" fill="#1e8a5e"/>
<circle cx="389.5" cy="550.4" r="1.5" fill="#1e8a5e"/>
<line x1="389.5" y1="557.4" x2="389.5" y2="654.5" stroke="#1e8a5e" stroke-width="3.0" stroke-linecap="round"/>
<g stroke="#1e8a5e" stroke-width="1.2" fill="none"><rect x="375.2" y="682.5" width="28.3" height="19.0"/><line x1="375.2" y1="695.4" x2="403.5" y2="695.4"/><line x1="389.4" y1="655" x2="389.4" y2="682.5"/><line x1="389.4" y1="701.5" x2="389.4" y2="703.4"/></g>
<circle cx="421.4" cy="610.0" r="1.5" fill="#2aa96c"/>
<circle cx="421.4" cy="620.0" r="1.5" fill="#2aa96c"/>
<line x1="421.4" y1="623.5" x2="421.4" y2="698.5" stroke="#2aa96c" stroke-width="3.0" stroke-linecap="round"/>
<g stroke="#2aa96c" stroke-width="1.2" fill="none"><rect x="407.3" y="700.9" width="28.5" height="2.9"/><line x1="407.3" y1="703" x2="435.8" y2="703"/><line x1="421.6" y1="699.2" x2="421.6" y2="700.9"/><line x1="421.6" y1="703.8" x2="421.6" y2="703.8"/></g>
<line x1="307.4" y1="711.9" x2="307.4" y2="714.5" stroke="#332b2b" stroke-width="1.1"/>
<line x1="339.3" y1="711.9" x2="339.3" y2="714.5" stroke="#332b2b" stroke-width="1.1"/>
<line x1="389.5" y1="711.9" x2="389.5" y2="714.5" stroke="#332b2b" stroke-width="1.1"/>
<line x1="421.4" y1="711.9" x2="421.4" y2="714.5" stroke="#332b2b" stroke-width="1.1"/>
<g stroke="#222" stroke-width="1"><line x1="307.9" y1="542.5" x2="339.1" y2="542.5"/><line x1="389.5" y1="528.5" x2="420.8" y2="528.5"/><line x1="306.4" y1="731.5" x2="420.6" y2="731.5"/></g>
<text x="323.6" y="543.6" font-size="11.6" text-anchor="middle" fill="#1f1a1a" >****</text>
<text x="405.2" y="530.3" font-size="11.6" text-anchor="middle" fill="#1f1a1a" >****</text>
<text x="304.7" y="724.4" font-size="11.75" text-anchor="middle" fill="#1f1a1a" >-auxin</text>
<text x="341.6" y="724.4" font-size="11.75" text-anchor="middle" fill="#1f1a1a" >+auxin</text>
<text x="388.0" y="724.4" font-size="11.75" text-anchor="middle" fill="#1f1a1a" >-auxin</text>
<text x="424.8" y="724.4" font-size="11.75" text-anchor="middle" fill="#1f1a1a" >+auxin</text>
<text x="365.6" y="745.6" font-size="11.75" text-anchor="middle" fill="#1f1a1a" >TAF-12::AID;UAD-2::GFP</text>
<rect x="506.2" y="514.4" width="178.10" height="197.20" fill="none" stroke="#332b2b" stroke-width="1.3"/>
<line x1="594.9" y1="514.4" x2="594.9" y2="711.6" stroke="#332b2b" stroke-width="1.3"/>
<text x="595.8" y="508.8" font-size="11.75" text-anchor="middle" fill="#1f1a1a" >Total piRNA precursors</text>
<text x="525.5" y="525.4" font-size="9.7" text-anchor="start" fill="#1f1a1a" textLength="51.2" lengthAdjust="spacingAndGlyphs">Replicate #1</text>
<text x="613.6" y="525.4" font-size="9.7" text-anchor="start" fill="#1f1a1a" textLength="51.8" lengthAdjust="spacingAndGlyphs">Replicate #2</text>
<line x1="503.0" y1="702.6" x2="506.2" y2="702.6" stroke="#332b2b" stroke-width="1.1"/>
<text x="500.6" y="706.7" font-size="11.75" text-anchor="end" fill="#1f1a1a" >0</text>
<line x1="503.0" y1="662.9" x2="506.2" y2="662.9" stroke="#332b2b" stroke-width="1.1"/>
<text x="500.6" y="667.0" font-size="11.75" text-anchor="end" fill="#1f1a1a" >1</text>
<line x1="503.0" y1="623.1" x2="506.2" y2="623.1" stroke="#332b2b" stroke-width="1.1"/>
<text x="500.6" y="627.2" font-size="11.75" text-anchor="end" fill="#1f1a1a" >2</text>
<line x1="503.0" y1="583.4" x2="506.2" y2="583.4" stroke="#332b2b" stroke-width="1.1"/>
<text x="500.6" y="587.5" font-size="11.75" text-anchor="end" fill="#1f1a1a" >3</text>
<line x1="503.0" y1="543.6" x2="506.2" y2="543.6" stroke="#332b2b" stroke-width="1.1"/>
<text x="500.6" y="547.7" font-size="11.75" text-anchor="end" fill="#1f1a1a" >4</text>
<text transform="translate(484,611.7) rotate(-90)" font-size="11.8" text-anchor="middle" fill="#1f1a1a">piRNA precursor reads per million (log<tspan font-size="7.1">10</tspan>)</text>
<circle cx="529.6" cy="544.8" r="1.45" fill="#7b5ea7"/>
<circle cx="529.6" cy="547.6" r="1.45" fill="#7b5ea7"/>
<circle cx="529.6" cy="557.1" r="1.45" fill="#7b5ea7"/>
<circle cx="529.6" cy="565.7" r="1.45" fill="#7b5ea7"/>
<circle cx="529.6" cy="570.4" r="1.45" fill="#7b5ea7"/>
<circle cx="529.6" cy="572.7" r="1.45" fill="#7b5ea7"/>
<circle cx="529.6" cy="575.2" r="1.45" fill="#7b5ea7"/>
<circle cx="529.6" cy="579.0" r="1.45" fill="#7b5ea7"/>
<circle cx="529.6" cy="581.4" r="1.45" fill="#7b5ea7"/>
<circle cx="529.6" cy="591.7" r="1.45" fill="#7b5ea7"/>
<circle cx="529.6" cy="595.1" r="1.45" fill="#7b5ea7"/>
<circle cx="529.6" cy="597.9" r="1.45" fill="#7b5ea7"/>
<circle cx="529.6" cy="600.8" r="1.45" fill="#7b5ea7"/>
<circle cx="529.6" cy="603.6" r="1.45" fill="#7b5ea7"/>
<line x1="529.6" y1="606" x2="529.6" y2="658.5" stroke="#7b5ea7" stroke-width="2.9" stroke-linecap="round"/>
<g stroke="#7b5ea7" stroke-width="1.2" fill="none"><rect x="512.3" y="684.4" width="35.3" height="18.1"/><line x1="512.3" y1="694.3" x2="547.6" y2="694.3"/><line x1="530.0" y1="659" x2="530.0" y2="684.4"/><line x1="530.0" y1="702.5" x2="530.0" y2="702.5"/></g>
<circle cx="570.4" cy="553.9" r="1.45" fill="#1f8a5e"/>
<circle cx="570.4" cy="560.0" r="1.45" fill="#1f8a5e"/>
<circle cx="570.4" cy="562.4" r="1.45" fill="#1f8a5e"/>
<circle cx="570.4" cy="570.4" r="1.45" fill="#1f8a5e"/>
<circle cx="570.4" cy="574.8" r="1.45" fill="#1f8a5e"/>
<circle cx="570.4" cy="581.2" r="1.45" fill="#1f8a5e"/>
<circle cx="570.4" cy="585.6" r="1.45" fill="#1f8a5e"/>
<circle cx="570.4" cy="588.4" r="1.45" fill="#1f8a5e"/>
<circle cx="570.4" cy="592.2" r="1.45" fill="#1f8a5e"/>
<circle cx="570.4" cy="595.1" r="1.45" fill="#1f8a5e"/>
<circle cx="570.4" cy="598.3" r="1.45" fill="#1f8a5e"/>
<circle cx="570.4" cy="601.2" r="1.45" fill="#1f8a5e"/>
<line x1="570.4" y1="604" x2="570.4" y2="640" stroke="#1f8a5e" stroke-width="2.9" stroke-linecap="round"/>
<line x1="570.4" y1="640" x2="570.4" y2="700" stroke="#1f8a5e" stroke-width="2.9" stroke-linecap="round" stroke-dasharray="0 2.1"/>
<line x1="553.1" y1="702.5" x2="587.6" y2="702.5" stroke="#1f8a5e" stroke-width="1.2"/>
<circle cx="619.9" cy="562.4" r="1.45" fill="#7b5ea7"/>
<circle cx="619.9" cy="563.7" r="1.45" fill="#7b5ea7"/>
<circle cx="619.9" cy="579.3" r="1.45" fill="#7b5ea7"/>
<circle cx="619.9" cy="583.7" r="1.45" fill="#7b5ea7"/>
<circle cx="619.9" cy="587.9" r="1.45" fill="#7b5ea7"/>
<circle cx="619.9" cy="590.3" r="1.45" fill="#7b5ea7"/>
<circle cx="619.9" cy="593.2" r="1.45" fill="#7b5ea7"/>
<line x1="619.9" y1="595.5" x2="619.9" y2="677.5" stroke="#7b5ea7" stroke-width="2.9" stroke-linecap="round"/>
<g stroke="#7b5ea7" stroke-width="1.2" fill="none"><rect x="602.1" y="691.1" width="35.6" height="9.5"/><line x1="602.1" y1="698.7" x2="637.7" y2="698.7"/><line x1="619.9" y1="678" x2="619.9" y2="691.1"/><line x1="619.9" y1="700.6" x2="619.9" y2="702.3"/></g>
<circle cx="660.5" cy="554.7" r="1.45" fill="#1f8a5e"/>
<circle cx="660.5" cy="562.8" r="1.45" fill="#1f8a5e"/>
<circle cx="660.5" cy="572.7" r="1.45" fill="#1f8a5e"/>
<circle cx="660.5" cy="576.5" r="1.45" fill="#1f8a5e"/>
<circle cx="660.5" cy="581.8" r="1.45" fill="#1f8a5e"/>
<circle cx="660.5" cy="584.6" r="1.45" fill="#1f8a5e"/>
<circle cx="660.5" cy="587.5" r="1.45" fill="#1f8a5e"/>
<circle cx="660.5" cy="590.3" r="1.45" fill="#1f8a5e"/>
<circle cx="660.5" cy="593.2" r="1.45" fill="#1f8a5e"/>
<circle cx="660.5" cy="596.0" r="1.45" fill="#1f8a5e"/>
<circle cx="660.5" cy="601.2" r="1.45" fill="#1f8a5e"/>
<circle cx="660.5" cy="604.6" r="1.45" fill="#1f8a5e"/>
<line x1="660.5" y1="608" x2="660.5" y2="640" stroke="#1f8a5e" stroke-width="2.9" stroke-linecap="round"/>
<line x1="660.5" y1="640" x2="660.5" y2="700" stroke="#1f8a5e" stroke-width="2.9" stroke-linecap="round" stroke-dasharray="0 2.1"/>
<line x1="643.3" y1="702.5" x2="678" y2="702.5" stroke="#1f8a5e" stroke-width="1.2"/>
<line x1="529.9" y1="711.6" x2="529.9" y2="714.2" stroke="#332b2b" stroke-width="1.1"/>
<line x1="577.7" y1="711.6" x2="577.7" y2="714.2" stroke="#332b2b" stroke-width="1.1"/>
<line x1="620.1" y1="711.6" x2="620.1" y2="714.2" stroke="#332b2b" stroke-width="1.1"/>
<line x1="666.6" y1="711.6" x2="666.6" y2="714.2" stroke="#332b2b" stroke-width="1.1"/>
<g stroke="#222" stroke-width="1"><line x1="530.3" y1="537.5" x2="570.2" y2="537.5"/><line x1="619.1" y1="543.5" x2="659" y2="543.5"/><line x1="531.5" y1="731.5" x2="670.2" y2="731.5"/></g>
<text x="550.3" y="538.9" font-size="11.6" text-anchor="middle" fill="#1f1a1a" >****</text>
<text x="639.0" y="545.6" font-size="11.6" text-anchor="middle" fill="#1f1a1a" >****</text>
<text x="529.4" y="724.4" font-size="11.75" text-anchor="middle" fill="#1f1a1a" >-auxin</text>
<text x="574.5" y="724.4" font-size="11.75" text-anchor="middle" fill="#1f1a1a" >+auxin</text>
<text x="619.4" y="724.4" font-size="11.75" text-anchor="middle" fill="#1f1a1a" >-auxin</text>
<text x="665.0" y="724.4" font-size="11.75" text-anchor="middle" fill="#1f1a1a" >+auxin</text>
<text x="602.8" y="745.6" font-size="11.75" text-anchor="middle" fill="#1f1a1a" >TAF-12::AID;UAD-2::GFP</text>
</svg></body></html>
